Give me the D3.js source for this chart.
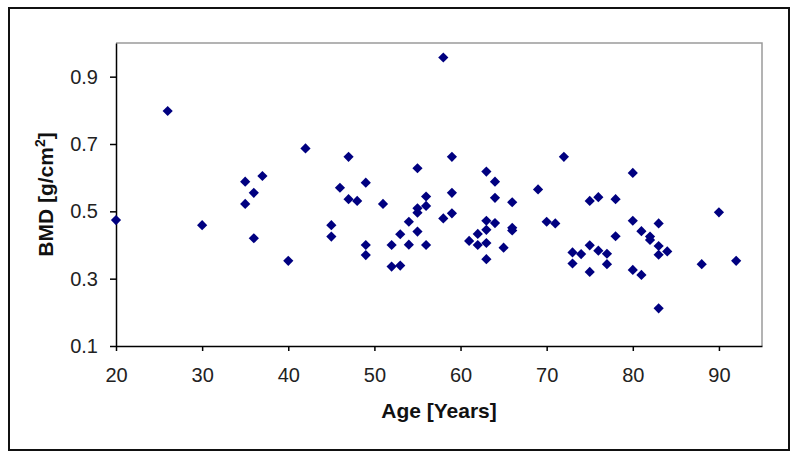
<!DOCTYPE html>
<html>
<head>
<meta charset="utf-8">
<script src="https://cdn.jsdelivr.net/npm/d3@7"></script>
<style>
  body { margin: 0; background: #fff; }
  svg { display: block; }
</style>
</head>
<body>
<svg id="chart"></svg>
<script>
// age of each subject (years)
var ages = [20, 26, 30, 35, 35, 36, 36, 37, 40, 42,
            45, 45, 46, 47, 47, 48, 49, 49, 49, 51,
            52, 52, 53, 53, 54, 54, 55, 55, 55, 55,
            56, 56, 56, 58, 58, 59, 59, 59, 61, 62,
            62, 63, 63, 63, 63, 63, 64, 64, 64, 65,
            66, 66, 66, 69, 70, 71, 72, 73, 73, 74,
            75, 75, 75, 76, 76, 77, 77, 78, 78, 80,
            80, 80, 81, 81, 82, 82, 83, 83, 83, 83,
            84, 88, 90, 92];
// bone mineral density (g/cm2), same order
var bmd = [0.474, 0.798, 0.459, 0.588, 0.522, 0.555, 0.420, 0.605, 0.353, 0.687,
           0.459, 0.425, 0.570, 0.662, 0.536, 0.531, 0.585, 0.400, 0.370, 0.522,
           0.400, 0.336, 0.432, 0.339, 0.469, 0.401, 0.628, 0.509, 0.496, 0.440,
           0.544, 0.516, 0.400, 0.957, 0.479, 0.662, 0.555, 0.494, 0.412, 0.433,
           0.400, 0.618, 0.472, 0.445, 0.406, 0.358, 0.588, 0.540, 0.465, 0.392,
           0.527, 0.451, 0.443, 0.565, 0.469, 0.464, 0.662, 0.378, 0.345, 0.373,
           0.531, 0.399, 0.320, 0.542, 0.383, 0.374, 0.343, 0.536, 0.426, 0.614,
           0.472, 0.326, 0.441, 0.311, 0.425, 0.415, 0.464, 0.397, 0.371, 0.212,
           0.381, 0.343, 0.497, 0.353];
var xTicks = [20, 30, 40, 50, 60, 70, 80, 90];
var yTicks = [0.1, 0.3, 0.5, 0.7, 0.9];

var W = 800, H = 459;
var plot = {left: 116, top: 43, right: 762, bottom: 346};

var svg = d3.select("#chart")
    .attr("width", W)
    .attr("height", H)
    .style("font-family", "Arial, 'Liberation Sans', sans-serif");

// outer chart border
svg.append("rect")
    .attr("x", 9).attr("y", 8)
    .attr("width", 780).attr("height", 442)
    .attr("fill", "#fff")
    .attr("stroke", "#111")
    .attr("stroke-width", 2);

var x = d3.scaleLinear().domain([20, 95]).range([plot.left, plot.right]);
var y = d3.scaleLinear().domain([0.1, 1.0]).range([plot.bottom, plot.top]);

// plot area frame: grey top and right edges
svg.append("path")
    .attr("d", "M" + plot.left + "," + plot.top + "H" + plot.right + "V" + plot.bottom)
    .attr("fill", "none")
    .attr("stroke", "#9a9a9a")
    .attr("stroke-width", 1.5);

var xAxis = svg.append("g")
    .attr("transform", "translate(0," + plot.bottom + ")")
    .call(d3.axisBottom(x).tickValues(xTicks).tickSize(5).tickPadding(17).tickSizeOuter(0));

var yAxis = svg.append("g")
    .attr("transform", "translate(" + plot.left + ",0)")
    .call(d3.axisLeft(y).tickValues(yTicks).tickFormat(d3.format(".1f")).tickSize(6).tickPadding(12).tickSizeOuter(0));

[xAxis, yAxis].forEach(function(g) {
  g.select(".domain").attr("stroke", "#000").attr("stroke-width", 1.5);
  g.selectAll(".tick line").attr("stroke", "#000").attr("stroke-width", 1.5);
  g.selectAll(".tick text")
      .attr("fill", "#222")
      .style("font-size", "20px")
      .style("font-family", "Arial, 'Liberation Sans', sans-serif");
});

// markers
var diamond = d3.symbol().type(d3.symbolSquare).size(52);
svg.append("g")
  .selectAll("path")
  .data(ages)
  .join("path")
    .attr("d", diamond)
    .attr("transform", function(d, i) {
      return "translate(" + x(d) + "," + y(bmd[i]) + ") rotate(45)";
    })
    .attr("fill", "#000080");

// axis titles
svg.append("text")
    .attr("x", (plot.left + plot.right) / 2)
    .attr("y", 418)
    .attr("text-anchor", "middle")
    .attr("font-weight", "bold")
    .attr("font-size", "21px")
    .attr("fill", "#111")
    .text("Age [Years]");

var yTitle = svg.append("text")
    .attr("transform", "translate(53," + ((plot.top + plot.bottom) / 2) + ") rotate(-90)")
    .attr("text-anchor", "middle")
    .attr("font-weight", "bold")
    .attr("font-size", "21px")
    .attr("fill", "#111");
yTitle.append("tspan").text("BMD [g/cm");
yTitle.append("tspan").attr("font-size", "14px").attr("dy", "-8").text("2");
yTitle.append("tspan").attr("dy", "8").text("]");
</script>
</body>
</html>
